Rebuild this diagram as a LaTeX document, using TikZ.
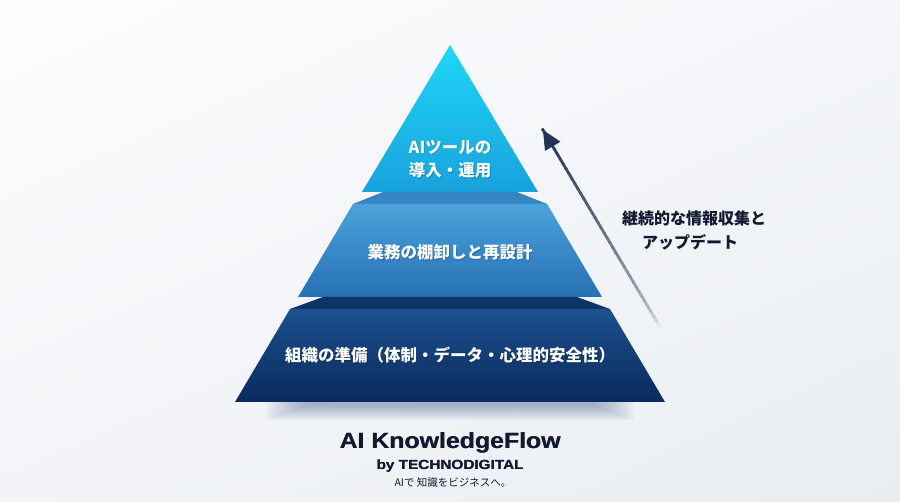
\documentclass[tikz,border=0pt]{standalone}
\usepackage{fontspec}
\setmainfont{Liberation Sans}
\newfontfamily\jp{Noto Sans CJK JP}
\usetikzlibrary{arrows.meta,calc,shadings}
\definecolor{bgtl}{HTML}{FDFDFE}
\definecolor{bgtr}{HTML}{F4F6F9}
\definecolor{bgbl}{HTML}{F2F4F7}
\definecolor{bgbr}{HTML}{E9EDF2}
\definecolor{triTop}{HTML}{20D6F8}
\definecolor{triBot}{HTML}{18A2DC}
\definecolor{midBevel}{HTML}{3784C3}
\definecolor{midTop}{HTML}{4BA3DA}
\definecolor{midBot}{HTML}{2670B4}
\definecolor{lowBevel}{HTML}{0E3366}
\definecolor{lowTop}{HTML}{1D508F}
\definecolor{lowBot}{HTML}{0A2A5C}
\definecolor{shadowc}{HTML}{3D5A8A}
\definecolor{inkc}{HTML}{111A30}
\definecolor{arrowDark}{HTML}{223556}
\definecolor{arrowLight}{HTML}{E4E7EC}
\tikzset{
  tierlabel/.style={font=\jp\bfseries\fontsize{16.5}{18}\selectfont, text=white, inner sep=0pt},
  tiershadow/.style={font=\jp\bfseries\fontsize{16.5}{18}\selectfont, text=black, opacity=0.22, inner sep=0pt},
  sidelabel/.style={font=\jp\bfseries\fontsize{16}{18}\selectfont, text=inkc, inner sep=0pt, anchor=west},
  titlestyle/.style={font=\bfseries\fontsize{22}{24}\selectfont, text=inkc, inner sep=0pt, anchor=base, xscale=1.13, transform shape},
  bystyle/.style={font=\bfseries\fontsize{13.2}{15}\selectfont, text=inkc, inner sep=0pt, anchor=base, xscale=1.16, transform shape},
}
\begin{document}
\begin{tikzpicture}[x=1pt,y=-1pt]
\useasboundingbox (0,0) rectangle (900,502);
% background
\shade[upper left=bgtl, upper right=bgtr, lower left=bgbl, lower right=bgbr] (0,0) rectangle (900,502);
% pyramid shadow
\foreach \i in {0,...,13}{
  \fill[shadowc, opacity=0.035] (266+\i*3,402) rectangle (634-\i*3,420-\i*1.1);
}
% top triangle
\shade[top color=triTop, bottom color=triBot] (450,45) -- (538,192) -- (362,192) -- cycle;
% middle tier
\fill[midBevel] (383,192) -- (517,192) -- (547,204) -- (353,204) -- cycle;
\shade[top color=midTop, bottom color=midBot] (353,204) -- (547,204) -- (602,297) -- (298,297) -- cycle;
% bottom tier
\fill[lowBevel] (323,297) -- (577,297) -- (610,309) -- (290,309) -- cycle;
\shade[top color=lowTop, bottom color=lowBot] (290,309) -- (610,309) -- (665,402) -- (235,402) -- cycle;
% labels in pyramid
\node[tiershadow] (t1s) at (450.8,147.8) {AIツールの};
\node[tiershadow] (t2s) at (450.8,170.8) {導入・運用};
\node[tiershadow] (m1s) at (450.8,252.8) {業務の棚卸しと再設計};
\node[tiershadow] (b1s) at (450.8,355.8) {組織の準備（体制・データ・心理的安全性）};
\node[tierlabel] (t1) at (450,147) {AIツールの};
\node[tierlabel] (t2) at (450,170) {導入・運用};
\node[tierlabel] (m1) at (450,252) {業務の棚卸しと再設計};
\node[tierlabel] (b1) at (450,355) {組織の準備（体制・データ・心理的安全性）};
% arrow
\coordinate (atail) at (660,327);
\coordinate (ahead) at (543,130);
\foreach \i in {0,...,39}{
  \pgfmathsetmacro{\ta}{\i/40}
  \pgfmathsetmacro{\tb}{(\i+1.3)/40}
  \pgfmathsetmacro{\mix}{100*(\ta^0.55)}
  \draw[arrowDark!\mix!arrowLight, line width=2.8pt] ($(atail)!\ta!(ahead)$) -- ($(atail)!\tb!(ahead)$);
}
\fill[arrowDark] (ahead) -- ($(ahead)!19pt!(atail)!9pt!90:(atail)$) -- ($(ahead)!19pt!(atail)!9pt!-90:(atail)$) -- cycle;
% side label
\node[sidelabel] (s1) at (622,218) {継続的な情報収集と};
\node[sidelabel] (s2) at (642,242) {アップデート};
% title (doubled for a heavier weight)
\node[titlestyle] (titleb) at (450.45,448.5) {AI KnowledgeFlow};
\node[titlestyle] (title) at (450,448.5) {AI KnowledgeFlow};
\node[bystyle] (byb) at (450.3,470) {by TECHNODIGITAL};
\node[bystyle] (by) at (450,470) {by TECHNODIGITAL};
\node[font=\jp\fontsize{10.5}{12}\selectfont, text=inkc, inner sep=0pt, anchor=base] (tag) at (453,486.5) {AIで 知識をビジネスへ。};
\end{tikzpicture}
\end{document}
